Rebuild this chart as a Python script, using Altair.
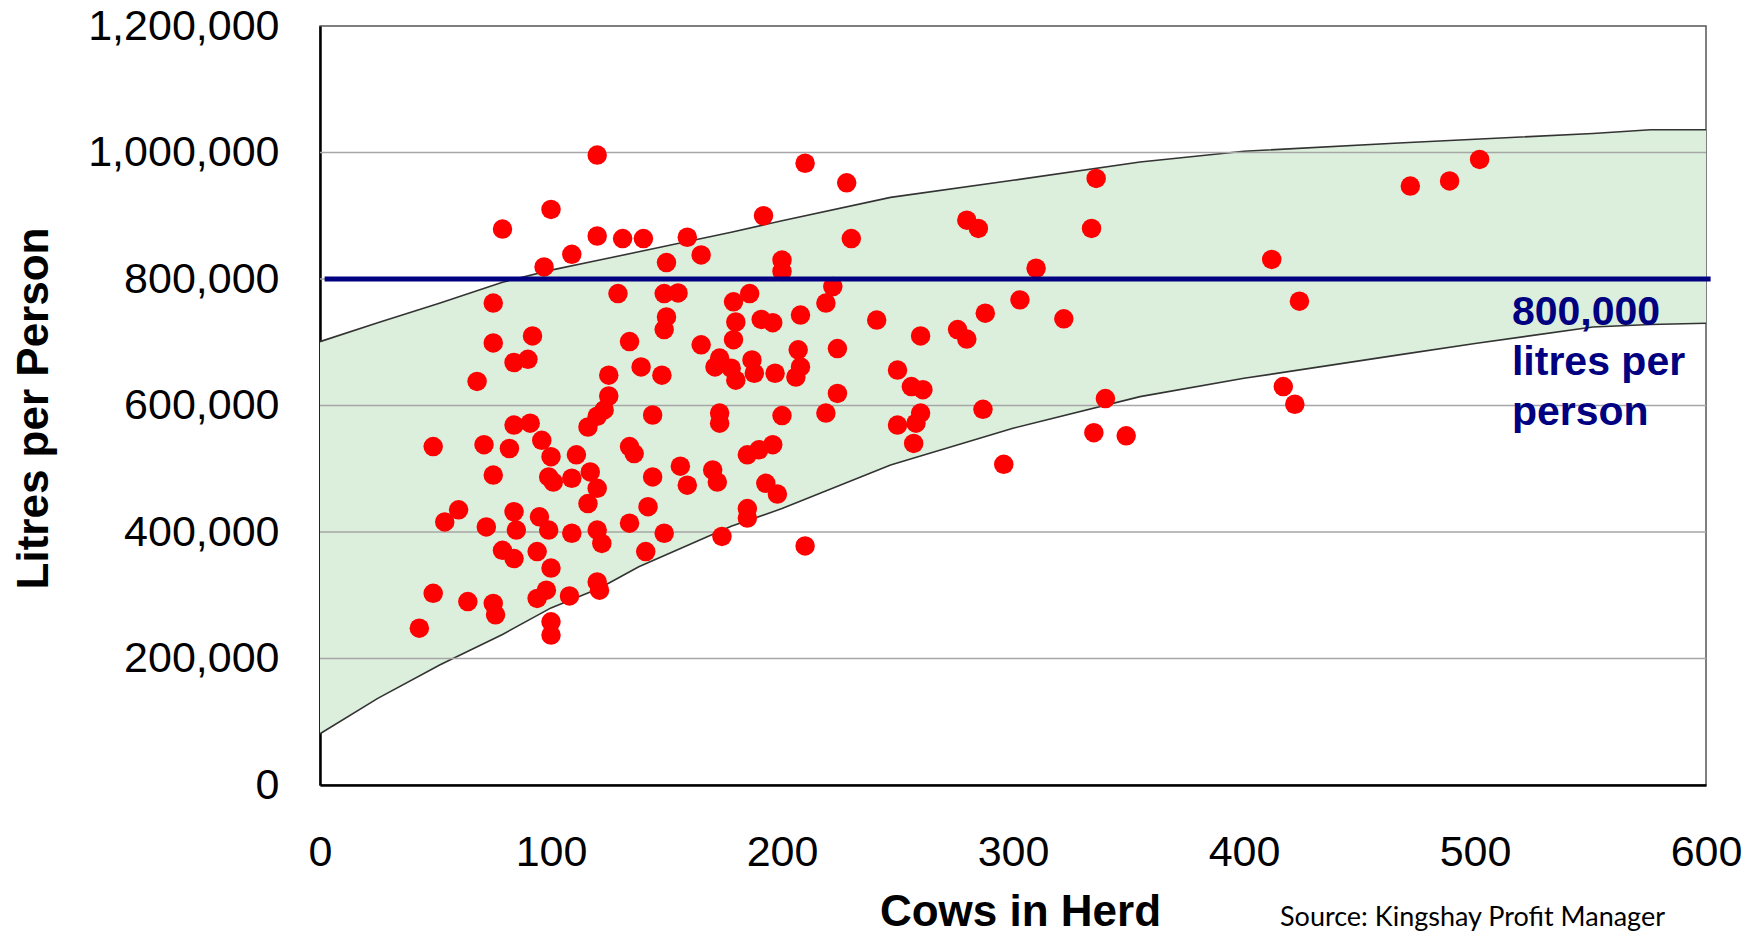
import altair as alt
import pandas as pd

# ---- scatter data: cows in herd vs litres per person ----
COWS = [120, 100, 79, 120, 131, 140, 109, 97, 129, 75, 92, 75, 134, 84, 90, 68, 125, 139, 125,
        210, 228, 192, 159, 165, 150, 230, 200, 200, 222, 219, 149, 155, 150, 149, 186, 179, 180,
        191, 196, 208, 241, 165, 179, 173, 171, 180, 187, 188, 178, 197, 207, 208, 206, 224, 224,
        148, 250, 123, 120, 116, 84, 91, 49, 71, 82, 96, 100, 134, 136, 111, 75, 101, 99, 109,
        117, 120, 116, 60, 54, 72, 84, 85, 79, 84, 95, 99, 94, 100, 109, 120, 122, 134, 49, 64,
        75, 76, 43, 94, 98, 108, 120, 121, 100, 100, 219, 144, 173, 173, 200, 144, 156, 159, 170,
        172, 185, 190, 196, 193, 198, 185, 185, 142, 149, 141, 174, 210, 336, 334, 280, 285, 310,
        303, 288, 322, 276, 280, 260, 256, 261, 260, 250, 258, 257, 287, 296, 340, 335, 349, 472,
        489, 502, 412, 424, 417, 422]
LITRES = [996000, 910000, 879000, 868000, 864000, 864000, 839000, 819000, 777000, 762000, 710000,
          699000, 701000, 668000, 673000, 638000, 648000, 661000, 615000, 983000, 952000, 900000,
          866000, 838000, 826000, 864000, 830000, 812000, 788000, 762000, 777000, 778000, 740000,
          720000, 777000, 764000, 732000, 736000, 731000, 743000, 735000, 696000, 704000, 675000,
          661000, 640000, 672000, 651000, 659000, 651000, 688000, 661000, 645000, 690000, 619000,
          648000, 656000, 593000, 583000, 566000, 569000, 572000, 535000, 538000, 532000, 545000,
          519000, 535000, 524000, 522000, 490000, 479000, 487000, 485000, 495000, 469000, 445000,
          435000, 416000, 408000, 432000, 403000, 371000, 358000, 424000, 403000, 369000, 343000,
          398000, 403000, 382000, 414000, 303000, 290000, 287000, 269000, 248000, 295000, 308000,
          299000, 321000, 308000, 258000, 237000, 588000, 585000, 588000, 572000, 584000, 487000,
          504000, 474000, 498000, 479000, 522000, 530000, 538000, 477000, 460000, 437000, 422000,
          440000, 398000, 369000, 393000, 378000, 959000, 880000, 893000, 880000, 817000, 767000,
          746000, 737000, 720000, 705000, 710000, 630000, 625000, 588000, 569000, 572000, 540000,
          594000, 507000, 611000, 557000, 552000, 947000, 955000, 989000, 831000, 765000, 630000,
          602000]

# ---- shaded band ----
BAND_X = [0, 25, 52, 79, 100, 121, 138, 178, 200, 247, 300, 355, 400, 467, 500, 551, 576, 600]
BAND_UPPER = [701000, 731000, 762000, 795000, 814000, 830000, 843000, 874000, 892000, 929000,
              956000, 985000, 1002000, 1015000, 1021000, 1030000, 1036000, 1036000]
BAND_LOWER = [81000, 137000, 190000, 238000, 280000, 311000, 345000, 409000, 437000, 506000,
              564000, 614000, 643000, 680000, 698000, 724000, 728000, 730000]

# ---- reference line and texts ----
TARGET_LITRES = [800000]
TARGET_X_START = [2]
TARGET_X_END = [602]
GRID_LITRES = [200000, 400000, 600000, 800000, 1000000]
X_TICKS = [0, 100, 200, 300, 400, 500, 600]
Y_TICKS = [0, 200000, 400000, 600000, 800000, 1000000, 1200000]
NOTE_TEXT = ["800,000\nlitres per\nperson"]
NOTE_X = [516]
NOTE_Y = [727000]
SOURCE_TEXT = ["Source: Kingshay Profit Manager"]

pts = pd.DataFrame({"x": COWS, "y": LITRES})
band = pd.DataFrame({"x": BAND_X, "y": BAND_UPPER, "y2": BAND_LOWER})
upper = pd.DataFrame({"x": BAND_X, "y": BAND_UPPER})
lower = pd.DataFrame({"x": BAND_X, "y": BAND_LOWER})
grid = pd.DataFrame({"y": GRID_LITRES})
target = pd.DataFrame({"x": TARGET_X_START, "x2": TARGET_X_END, "y": TARGET_LITRES})
note = pd.DataFrame({"x": NOTE_X, "y": NOTE_Y, "t": NOTE_TEXT})
src = pd.DataFrame({"t": SOURCE_TEXT})

W, H = 1386, 759
xs = alt.Scale(domain=[0, 600], nice=False, zero=False)
ys = alt.Scale(domain=[0, 1200000], nice=False)

x_axis = alt.Axis(values=X_TICKS, format="d", labelFlush=False, labelPadding=46,
                  titleX=700, titleY=140, titleBaseline="alphabetic", titleAlign="center",
                  titleAnchor="middle")
y_axis = alt.Axis(values=Y_TICKS, format=",d", labelPadding=41, labelLimit=0,
                  titleX=-273, titleY=382, titleAngle=270, titleBaseline="alphabetic",
                  titleAlign="center")

X = alt.X("x:Q", scale=xs, axis=x_axis, title="Cows in Herd")
Y = alt.Y("y:Q", scale=ys, axis=y_axis, title="Litres per Person")

area = alt.Chart(band).mark_area(color="#dcefdc", opacity=1).encode(x=X, y=Y, y2="y2:Q")
up_line = alt.Chart(upper).mark_line(color="#333333", strokeWidth=1.6).encode(x=X, y=Y)
lo_line = alt.Chart(lower).mark_line(color="#333333", strokeWidth=1.6).encode(x=X, y=Y)
grid_rules = alt.Chart(grid).mark_rule(color="#a6a6a6", strokeWidth=1.5).encode(y=Y)
points = alt.Chart(pts).mark_circle(size=380, color="#ff0000", opacity=1).encode(x=X, y=Y)
target_rule = alt.Chart(target).mark_rule(color="#000080", strokeWidth=5).encode(
    x=X, x2="x2:Q", y=Y)
note_text = alt.Chart(note).mark_text(
    align="left", baseline="alphabetic", font="Liberation Sans", fontWeight="bold",
    fontSize=41, color="#000080", lineBreak="\n", lineHeight=50
).encode(x=X, y=Y, text="t:N")
src_text = alt.Chart(src).mark_text(
    align="left", baseline="alphabetic", font="Lato", fontSize=27, color="#000000"
).encode(x=alt.value(960), y=alt.value(H + 141), text="t:N")

chart = alt.layer(area, up_line, lo_line, grid_rules, points, target_rule, note_text, src_text).properties(
    width=W, height=H,
    autosize=alt.AutoSizeParams(type="none"),
    padding={"left": 312, "top": 18, "right": 40, "bottom": 150},
).configure_view(
    stroke="#555555", strokeWidth=1.5
).configure_axis(
    grid=False, ticks=False, domain=True, domainColor="#000000", domainWidth=2.5,
    labelFont="Liberation Sans", labelFontSize=43, labelColor="#000000",
    titleFont="Liberation Sans", titleFontSize=44, titleFontWeight="bold", titleColor="#000000",
)

chart.save("out.html", embed_options={"renderer": "svg", "actions": False})
